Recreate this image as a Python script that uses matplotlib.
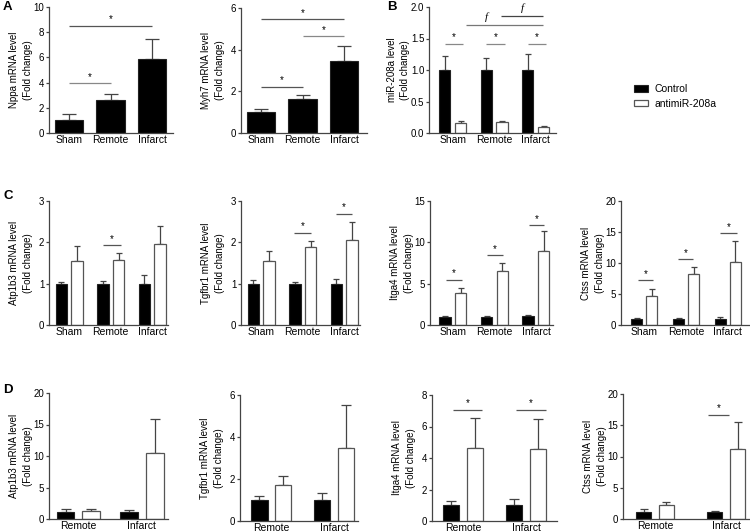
import numpy as np
import matplotlib
matplotlib.use('Agg')
import matplotlib.pyplot as plt
from matplotlib.patches import Patch

plt.rcParams['font.family'] = ['Liberation Sans', 'DejaVu Sans']

groups3 = ['Sham', 'Remote', 'Infarct']
groups2 = ['Remote', 'Infarct']

# panel A (single series)
nppa_mean = [1.0, 2.6, 5.9]
nppa_err = [0.47, 0.53, 1.53]
myh7_mean = [1.0, 1.65, 3.48]
myh7_err = [0.17, 0.19, 0.7]

# panel B
mir_ctrl = [1.0, 1.0, 1.0]
mir_ctrl_err = [0.22, 0.19, 0.26]
mir_anti = [0.165, 0.175, 0.095]
mir_anti_err = [0.03, 0.02, 0.015]

# panel C
c_atp_ctrl = [1.0, 1.0, 1.0]
c_atp_ctrl_err = [0.05, 0.07, 0.2]
c_atp_anti = [1.56, 1.58, 1.96]
c_atp_anti_err = [0.35, 0.15, 0.43]
c_tgf_ctrl = [1.0, 1.0, 1.0]
c_tgf_ctrl_err = [0.09, 0.05, 0.11]
c_tgf_anti = [1.55, 1.89, 2.05]
c_tgf_anti_err = [0.24, 0.14, 0.44]
c_itg_ctrl = [1.0, 1.0, 1.05]
c_itg_ctrl_err = [0.12, 0.08, 0.15]
c_itg_anti = [3.85, 6.55, 9.0]
c_itg_anti_err = [0.6, 0.9, 2.4]
c_cts_ctrl = [1.0, 1.0, 1.0]
c_cts_ctrl_err = [0.2, 0.1, 0.25]
c_cts_anti = [4.7, 8.2, 10.2]
c_cts_anti_err = [1.1, 1.1, 3.3]

# panel D
d_atp_ctrl = [1.05, 1.05]
d_atp_ctrl_err = [0.55, 0.4]
d_atp_anti = [1.3, 10.4]
d_atp_anti_err = [0.3, 5.55]
d_tgf_ctrl = [1.0, 1.0]
d_tgf_ctrl_err = [0.2, 0.33]
d_tgf_anti = [1.71, 3.47]
d_tgf_anti_err = [0.42, 2.05]
d_itg_ctrl = [1.0, 1.0]
d_itg_ctrl_err = [0.27, 0.4]
d_itg_anti = [4.63, 4.56]
d_itg_anti_err = [1.89, 1.89]
d_cts_ctrl = [1.06, 1.06]
d_cts_ctrl_err = [0.55, 0.27]
d_cts_anti = [2.23, 11.28]
d_cts_anti_err = [0.55, 4.2]

W, H = 750, 532
fig = plt.figure(figsize=(7.5, 5.32), dpi=100)

EDGE = '#444444'


def make_ax(left, top, right, bottom, ymax, ystep, ylabel, xlim, fmt='%d', labgap=16.0):
    ax = fig.add_axes([left / W, 1 - bottom / H, (right - left) / W, (bottom - top) / H])
    ax.set_ylim(0, ymax)
    ax.set_xlim(*xlim)
    ticks = np.arange(0, ymax + ystep / 2, ystep)
    ax.set_yticks(ticks)
    ax.set_yticklabels([fmt % v for v in ticks])
    for s in ['top', 'right']:
        ax.spines[s].set_visible(False)
    for s in ['left', 'bottom']:
        ax.spines[s].set_color(EDGE)
        ax.spines[s].set_linewidth(0.9)
    ax.tick_params(axis='y', length=2.5, width=0.9, color=EDGE, labelsize=7, pad=0.8)
    ax.tick_params(axis='x', length=0, labelsize=7.5, pad=1.5)
    ax.set_ylabel(ylabel, fontsize=7, linespacing=1.45)
    ax.yaxis.set_label_coords(-labgap / (right - left), 0.5)
    return ax


def sig(ax, x1, x2, y, txt='*', color='#555555'):
    ax.plot([x1, x2], [y, y], color=color, lw=0.9, solid_capstyle='butt')
    if txt == '*':
        ax.annotate('*', ((x1 + x2) / 2, y), xytext=(0, 1), textcoords='offset points',
                    ha='center', va='bottom', fontsize=7)


def single_bars(ax, cats, mean, err, cap):
    x = np.arange(len(cats))
    ax.bar(x, mean, width=0.68, color='black', edgecolor='#222222', linewidth=0.8, zorder=2)
    ax.errorbar(x, mean, yerr=[np.zeros(len(err)), err], fmt='none', ecolor=EDGE,
                elinewidth=0.9, capsize=cap, capthick=0.9, zorder=1)
    ax.set_xticks(x)
    ax.set_xticklabels(cats)


def paired_bars(ax, cats, ctrl, ctrl_err, anti, anti_err, width, off, cap):
    x = np.arange(len(cats))
    ax.bar(x - off, ctrl, width=width, color='black', edgecolor='#222222', linewidth=0.8, zorder=2)
    ax.bar(x + off, anti, width=width, color='white', edgecolor='#555555', linewidth=0.9, zorder=2)
    ax.errorbar(x - off, ctrl, yerr=[np.zeros(len(ctrl)), ctrl_err], fmt='none', ecolor=EDGE,
                elinewidth=0.9, capsize=cap, capthick=0.9, zorder=1)
    ax.errorbar(x + off, anti, yerr=[np.zeros(len(anti)), anti_err], fmt='none', ecolor=EDGE,
                elinewidth=0.9, capsize=cap, capthick=0.9, zorder=1)
    ax.set_xticks(x)
    ax.set_xticklabels(cats)


# ---- A ----
ax = make_ax(49, 7, 173, 133, 10, 2, 'Nppa mRNA level\n(Fold change)', (-0.48, 2.5))
single_bars(ax, groups3, nppa_mean, nppa_err, 4.7)
sig(ax, 0, 1, 3.95, color='#888888')
sig(ax, 0, 2, 8.5)

ax = make_ax(241, 8, 367, 133, 6, 2, 'Myh7 mRNA level\n(Fold change)', (-0.48, 2.55))
single_bars(ax, groups3, myh7_mean, myh7_err, 4.7)
sig(ax, 0, 1, 2.23)
sig(ax, 1, 2, 4.64, color='#888888')
sig(ax, 0, 2, 5.47)

# ---- B ----
ax = make_ax(429, 7, 556, 133, 2.0, 0.5, 'miR-208a level\n(Fold change)', (-0.57, 2.49),
             fmt='%.1f', labgap=18.5)
paired_bars(ax, groups3, mir_ctrl, mir_ctrl_err, mir_anti, mir_anti_err, 0.27, 0.19, 2.2)
for i in range(3):
    sig(ax, i - 0.19, i + 0.25, 1.42, color='#888888')
sig(ax, 0.32, 2.17, 1.71, txt='', color='#777777')
sig(ax, 1.16, 2.17, 1.85, txt='', color='#444444')
ax.text(0.82, 1.76, 'f', family='Liberation Serif', style='italic', fontsize=8, ha='center', va='bottom')
ax.text(1.67, 1.90, 'f', family='Liberation Serif', style='italic', fontsize=8, ha='center', va='bottom')

fig.legend(handles=[Patch(facecolor='black', edgecolor='#222222', lw=0.8),
                    Patch(facecolor='white', edgecolor='#555555', lw=0.9)],
           labels=['Control', 'antimiR-208a'], loc='center left',
           bbox_to_anchor=(634 / W, 1 - 96.5 / H), frameon=False, fontsize=7.5,
           handlelength=1.35, handleheight=0.55, handletextpad=0.65,
           labelspacing=0.45, borderpad=0, borderaxespad=0)

# ---- C ----
ax = make_ax(49, 201, 168, 325, 3, 1, 'Atp1b3 mRNA level\n(Fold change)', (-0.49, 2.38))
paired_bars(ax, groups3, c_atp_ctrl, c_atp_ctrl_err, c_atp_anti, c_atp_anti_err, 0.28, 0.19, 2.2)
sig(ax, 1 - 0.19, 1 + 0.25, 1.93)

ax = make_ax(241, 201, 360, 325, 3, 1, 'Tgfbr1 mRNA level\n(Fold change)', (-0.49, 2.38))
paired_bars(ax, groups3, c_tgf_ctrl, c_tgf_ctrl_err, c_tgf_anti, c_tgf_anti_err, 0.28, 0.19, 2.2)
sig(ax, 1 - 0.2, 1 + 0.19, 2.23)
sig(ax, 2 - 0.2, 2 + 0.19, 2.69)

ax = make_ax(430, 201, 553, 325, 15, 5, 'Itga4 mRNA level\n(Fold change)', (-0.55, 2.41))
paired_bars(ax, groups3, c_itg_ctrl, c_itg_ctrl_err, c_itg_anti, c_itg_anti_err, 0.27, 0.19, 2.2)
sig(ax, -0.17, 0.21, 5.46)
sig(ax, 1 - 0.19, 1 + 0.2, 8.43)
sig(ax, 2 - 0.17, 2 + 0.19, 12.05)

ax = make_ax(621, 201, 749, 325, 20, 5, 'Ctss mRNA level\n(Fold change)', (-0.56, 2.51))
paired_bars(ax, groups3, c_cts_ctrl, c_cts_ctrl_err, c_cts_anti, c_cts_anti_err, 0.26, 0.18, 2.2)
sig(ax, -0.15, 0.21, 7.2)
sig(ax, 1 - 0.2, 1 + 0.17, 10.6)
sig(ax, 2 - 0.18, 2 + 0.22, 14.8)

# ---- D ----
ax = make_ax(49, 393, 168, 519, 20, 5, 'Atp1b3 mRNA level\n(Fold change)', (-0.46, 1.41))
paired_bars(ax, groups2, d_atp_ctrl, d_atp_ctrl_err, d_atp_anti, d_atp_anti_err, 0.28, 0.2, 3.5)

ax = make_ax(240, 395, 358, 521, 6, 2, 'Tgfbr1 mRNA level\n(Fold change)', (-0.5, 1.38))
paired_bars(ax, groups2, d_tgf_ctrl, d_tgf_ctrl_err, d_tgf_anti, d_tgf_anti_err, 0.26, 0.19, 3.5)

ax = make_ax(432, 395, 557, 521, 8, 2, 'Itga4 mRNA level\n(Fold change)', (-0.49, 1.49))
paired_bars(ax, groups2, d_itg_ctrl, d_itg_ctrl_err, d_itg_anti, d_itg_anti_err, 0.255, 0.19, 3.5)
sig(ax, -0.16, 0.3, 7.05)
sig(ax, 1 - 0.16, 1 + 0.31, 7.05)

ax = make_ax(623, 394, 749, 519, 20, 5, 'Ctss mRNA level\n(Fold change)', (-0.45, 1.32))
paired_bars(ax, groups2, d_cts_ctrl, d_cts_ctrl_err, d_cts_anti, d_cts_anti_err, 0.21, 0.16, 3.0)
sig(ax, 1 - 0.26, 1 + 0.04, 16.65)

# panel letters
for letter, px, py in [('A', 3, 7), ('B', 387, 7), ('C', 3, 196), ('D', 3, 390)]:
    fig.text(px / W, 1 - py / H, letter, fontsize=9.5, fontweight='bold', ha='left', va='center')

fig.savefig('out.png', dpi=100)
